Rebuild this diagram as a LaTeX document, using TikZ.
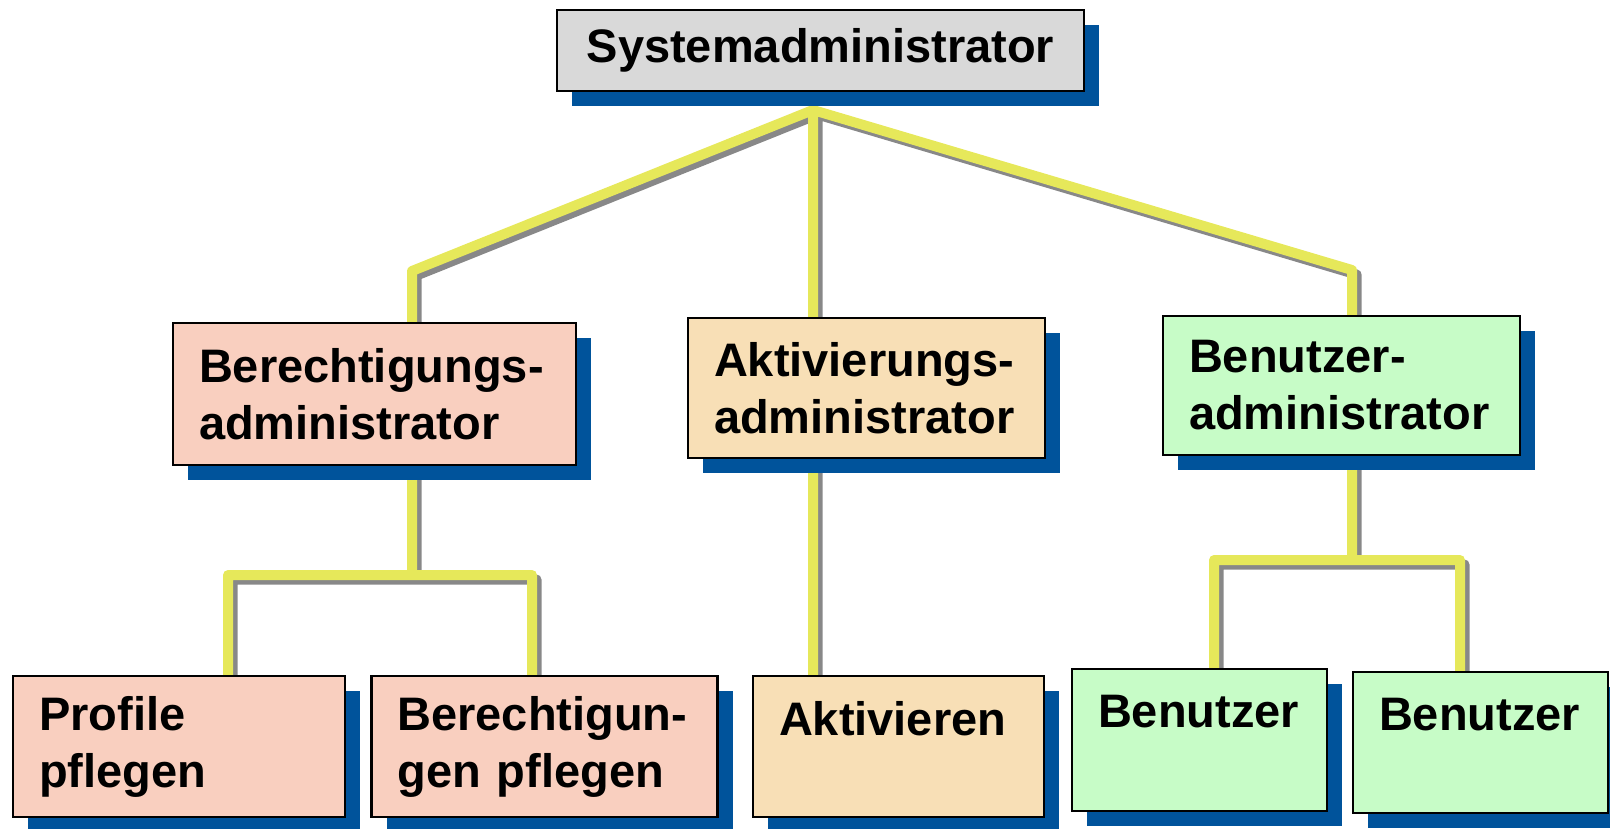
\documentclass[tikz,border=0pt]{standalone}
\usepackage{fontspec}
\setmainfont{Liberation Sans}
\usetikzlibrary{positioning,shadows}
\definecolor{sysgrey}{RGB}{217,217,217}
\definecolor{rightsfill}{RGB}{249,207,191}
\definecolor{actfill}{RGB}{248,223,182}
\definecolor{userfill}{RGB}{199,252,199}
\definecolor{shblue}{RGB}{0,83,155}
\definecolor{wireyellow}{RGB}{230,232,90}
\definecolor{wiregrey}{RGB}{136,136,136}
\pgfdeclarelayer{wires}
\pgfsetlayers{wires,main}

\begin{document}
\begin{tikzpicture}[x=1pt, y=-1pt, node distance=24pt,
    box/.style={draw, line width=2.5pt, inner xsep=26pt, inner ysep=0pt, minimum height=141pt, align=left,
                font=\fontsize{47}{57}\selectfont\bfseries,
                general shadow={fill=shblue, shadow xshift=15pt, shadow yshift=-15pt}},
    wire/.style={draw=wireyellow, line width=10pt, line join=round,
                 preaction={draw=wiregrey, line width=10pt, line join=round, transform canvas={shift={(4.5pt,-4.5pt)}}}}]
    \useasboundingbox (0,0) rectangle (1610,828);

    \node[box, fill=sysgrey, align=center, minimum width=527pt, minimum height=81pt] (sys) at (820.5,50.5) {Systemadministrator};

    \node[box, fill=rightsfill, text width=351pt, minimum height=142pt] (badm) at (374.5,394)    {Berechtigungs-\\administrator};
    \node[box, fill=actfill,    text width=305pt, minimum height=140pt] (aadm) at (866.5,388)    {Aktivierungs-\\administrator};
    \node[box, fill=userfill,   text width=305pt, minimum height=139pt] (uadm) at (1341.5,385.5) {Benutzer-\\administrator};

    \node[box, fill=rightsfill, text width=280pt] (prof) at (179,746.5)     {Profile\\pflegen};
    \node[box, fill=rightsfill, text width=294pt] (bpfl) [right=of prof]    {Berechtigun-\\gen pflegen};
    \node[box, fill=actfill,    text width=239pt] (akt)  [right=33pt of bpfl] {Aktivieren\\~};
    \node[box, fill=userfill,   text width=203pt, minimum height=142pt] (ben1) at (1199.5,740) {Benutzer\\~};
    \node[box, fill=userfill,   text width=203pt] (ben2) at (1480.5,742.5) {Benutzer\\~};

    \coordinate (hub) at (813,110);
    \coordinate (lk)  at (412,271);
    \coordinate (rk)  at (1352,270);
    \coordinate (bm)  at (412,575);
    \coordinate (bl)  at (228,575);
    \coordinate (br)  at (532,575);
    \coordinate (um)  at (1352,560);
    \coordinate (ul)  at (1214,560);
    \coordinate (ur)  at (1460,560);

    \begin{pgfonlayer}{wires}
    \path[wire] (lk |- badm.north) -- (lk) -- (hub) -- (rk) -- (rk |- uadm.north)
                (hub) -- (hub |- aadm.north)
                (bm |- badm.south) -- (bm)
                (bl |- prof.north) -- (bl) -- (br) -- (br |- bpfl.north)
                (hub |- aadm.south) -- (hub |- akt.north)
                (um |- uadm.south) -- (um)
                (ul |- ben1.north) -- (ul) -- (ur) -- (ur |- ben2.north);
    \end{pgfonlayer}
\end{tikzpicture}
\end{document}
